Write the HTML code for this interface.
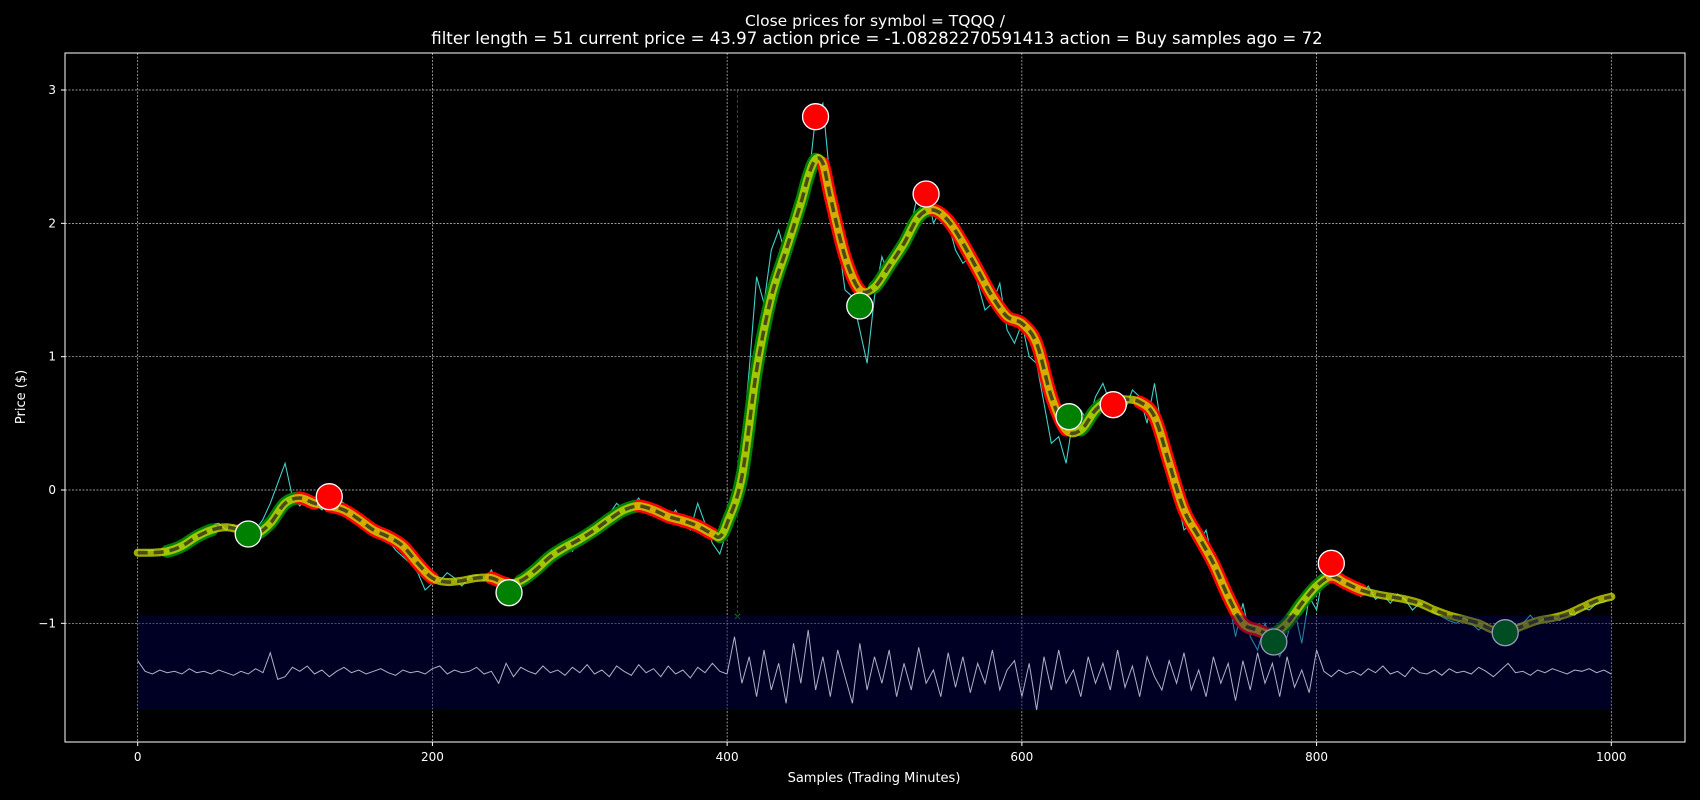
<!DOCTYPE html>
<html><head><meta charset="utf-8"><style>
html,body{margin:0;padding:0;background:#000;}
svg{display:block;font-family:"DejaVu Sans","Liberation Sans",sans-serif;}
</style></head><body>
<svg id="chart" width="1700" height="800" viewBox="0 0 1700 800" xmlns="http://www.w3.org/2000/svg">
<rect width="1700" height="800" fill="#000"/>
<text x="875" y="26" fill="#fff" font-size="15.5" text-anchor="middle">Close prices for symbol = TQQQ /</text>
<text x="877" y="44" fill="#fff" font-size="16.6" text-anchor="middle">filter length = 51 current price = 43.97 action price = -1.08282270591413 action = Buy samples ago = 72</text>
<g id="plot"></g>
<text x="874" y="782" fill="#fff" font-size="13" text-anchor="middle">Samples (Trading Minutes)</text>
<text x="0" y="0" fill="#fff" font-size="13" text-anchor="middle" transform="translate(25,397) rotate(-90)">Price ($)</text>
</svg>
<script>
const smoothX=[0,10,20,30,40,50,60,70,80,90,100,110,120,130,140,150,160,170,180,190,200,210,220,230,240,250,260,270,280,290,300,310,320,330,340,350,360,370,380,390,395,400,410,420,430,440,450,455,460,465,470,480,490,500,510,520,530,540,550,560,570,580,590,600,610,620,630,640,650,660,670,680,690,700,710,720,730,740,750,760,770,780,790,800,810,820,830,840,850,860,870,880,890,900,910,920,930,940,950,960,970,980,990,1000];
const smoothY=[-0.47,-0.47,-0.46,-0.42,-0.35,-0.3,-0.28,-0.3,-0.33,-0.25,-0.1,-0.06,-0.1,-0.12,-0.15,-0.22,-0.3,-0.35,-0.42,-0.55,-0.66,-0.69,-0.68,-0.66,-0.66,-0.70,-0.68,-0.6,-0.5,-0.43,-0.37,-0.3,-0.22,-0.15,-0.12,-0.15,-0.2,-0.23,-0.27,-0.33,-0.35,-0.25,0.1,0.9,1.45,1.8,2.15,2.35,2.48,2.45,2.2,1.75,1.5,1.52,1.68,1.85,2.05,2.1,2.02,1.85,1.65,1.45,1.3,1.25,1.1,0.7,0.45,0.45,0.6,0.68,0.68,0.66,0.55,0.2,-0.15,-0.35,-0.55,-0.8,-1.0,-1.05,-1.08,-1.0,-0.85,-0.72,-0.65,-0.7,-0.75,-0.78,-0.8,-0.82,-0.85,-0.9,-0.94,-0.97,-1.0,-1.05,-1.06,-1.02,-0.98,-0.96,-0.93,-0.88,-0.83,-0.8];
const priceStep=5;
const price=[-0.47,-0.46,-0.45,-0.48,-0.44,-0.46,-0.45,-0.40,-0.36,-0.30,-0.26,
-0.25,-0.30,-0.26,-0.33,-0.38,-0.30,-0.22,-0.10,0.05,0.20,
-0.05,-0.12,-0.05,-0.10,-0.15,-0.08,-0.06,-0.10,-0.18,-0.24,
-0.28,-0.30,-0.35,-0.38,-0.45,-0.50,-0.55,-0.62,-0.75,-0.70,
-0.68,-0.62,-0.66,-0.72,-0.65,-0.64,-0.68,-0.60,-0.72,-0.78,
-0.74,-0.66,-0.62,-0.55,-0.50,-0.52,-0.44,-0.40,-0.46,-0.36,
-0.32,-0.28,-0.24,-0.18,-0.10,-0.15,-0.12,-0.06,-0.15,-0.12,
-0.20,-0.22,-0.15,-0.25,-0.30,-0.10,-0.25,-0.40,-0.48,-0.30,
0.05,0.3,0.9,1.6,1.4,1.8,1.95,1.75,2.05,2.2,
2.3,2.8,2.9,2.3,1.9,1.5,1.45,1.2,0.95,1.45,
1.75,1.6,1.8,1.9,2.0,2.25,2.3,2.0,2.1,2.0,
1.8,1.7,1.75,1.55,1.35,1.4,1.55,1.2,1.1,1.25,
1.0,0.95,0.65,0.35,0.4,0.2,0.55,0.6,0.5,0.7,
0.8,0.65,0.7,0.6,0.75,0.7,0.5,0.8,0.45,0.3,
-0.05,-0.3,-0.25,-0.4,-0.3,-0.55,-0.7,-0.8,-1.1,-0.85,
-1.1,-1.2,-1.0,-1.15,-1.25,-1.1,-0.9,-1.15,-0.8,-0.9,
-0.6,-0.55,-0.65,-0.7,-0.75,-0.8,-0.72,-0.82,-0.78,-0.85,
-0.78,-0.82,-0.9,-0.85,-0.88,-0.92,-0.95,-0.98,-1.0,-0.96,
-1.0,-1.05,-1.0,-1.08,-1.1,-1.05,-1.02,-1.0,-0.94,-1.0,
-0.96,-0.95,-0.98,-0.92,-0.94,-0.88,-0.9,-0.85,-0.84,-0.8];
const osc=[-1.28,-1.36,-1.38,-1.35,-1.37,-1.36,-1.38,-1.34,-1.37,-1.36,-1.38,
-1.35,-1.37,-1.39,-1.36,-1.38,-1.34,-1.37,-1.22,-1.42,-1.40,
-1.33,-1.36,-1.32,-1.38,-1.35,-1.40,-1.36,-1.33,-1.37,-1.35,
-1.38,-1.36,-1.34,-1.37,-1.39,-1.35,-1.37,-1.36,-1.38,-1.34,
-1.32,-1.38,-1.35,-1.37,-1.36,-1.33,-1.38,-1.36,-1.45,-1.30,
-1.40,-1.33,-1.36,-1.38,-1.32,-1.37,-1.35,-1.39,-1.33,-1.37,
-1.31,-1.38,-1.35,-1.40,-1.32,-1.36,-1.39,-1.31,-1.37,-1.34,
-1.40,-1.32,-1.38,-1.35,-1.41,-1.33,-1.37,-1.30,-1.36,-1.38,
-1.10,-1.45,-1.25,-1.55,-1.20,-1.50,-1.30,-1.60,-1.15,-1.45,
-1.05,-1.50,-1.25,-1.55,-1.20,-1.40,-1.60,-1.15,-1.50,-1.25,
-1.45,-1.20,-1.55,-1.30,-1.50,-1.18,-1.45,-1.35,-1.55,-1.22,
-1.48,-1.25,-1.52,-1.30,-1.45,-1.20,-1.50,-1.35,-1.28,-1.55,
-1.30,-1.65,-1.25,-1.50,-1.20,-1.45,-1.35,-1.55,-1.25,-1.45,
-1.30,-1.50,-1.20,-1.48,-1.32,-1.55,-1.25,-1.40,-1.50,-1.28,
-1.45,-1.22,-1.50,-1.35,-1.55,-1.25,-1.45,-1.30,-1.58,-1.28,
-1.50,-1.22,-1.45,-1.30,-1.55,-1.25,-1.48,-1.35,-1.52,-1.20,
-1.36,-1.40,-1.35,-1.38,-1.36,-1.39,-1.34,-1.37,-1.32,-1.38,
-1.36,-1.40,-1.33,-1.37,-1.38,-1.35,-1.39,-1.34,-1.37,-1.36,
-1.38,-1.33,-1.36,-1.40,-1.35,-1.30,-1.37,-1.36,-1.39,-1.35,
-1.37,-1.34,-1.36,-1.38,-1.35,-1.36,-1.34,-1.37,-1.35,-1.38];
const sellX=[130,460,535,662,810];
const sellY=[-0.05,2.8,2.22,0.64,-0.55];
const buyX=[75,252,490,632,771,928];
const buyY=[-0.33,-0.77,1.38,0.55,-1.14,-1.07];
const xTicks=[0,200,400,600,800,1000];
const yTicks=[-1,0,1,2,3];
const band=[-0.94,-1.65];
const actionX=407;

const NS="http://www.w3.org/2000/svg";
const L=65,R=1685,T=53,B=742;
const sx=v=>137.7+(v/1000)*(1611.3-137.7);
const sy=v=>490-133.33*v;
const plot=document.getElementById('plot');
function mk(tag,attrs,parent){const e=document.createElementNS(NS,tag);for(const k in attrs)e.setAttribute(k,attrs[k]);(parent||plot).appendChild(e);return e;}
function spline(i0,i1){
  const P=smoothX.map((x,i)=>[sx(x),sy(smoothY[i])]);
  let d='M'+P[i0][0].toFixed(1)+','+P[i0][1].toFixed(1);
  for(let i=i0;i<i1;i++){
    const p0=P[Math.max(i-1,0)],p1=P[i],p2=P[i+1],p3=P[Math.min(i+2,P.length-1)];
    const c1=[p1[0]+(p2[0]-p0[0])/6,p1[1]+(p2[1]-p0[1])/6];
    const c2=[p2[0]-(p3[0]-p1[0])/6,p2[1]-(p3[1]-p1[1])/6];
    d+=' C'+c1[0].toFixed(1)+','+c1[1].toFixed(1)+' '+c2[0].toFixed(1)+','+c2[1].toFixed(1)+' '+p2[0].toFixed(1)+','+p2[1].toFixed(1);
  }
  return d;
}
xTicks.forEach(t=>{
  const g=mk('line',{x1:sx(t),x2:sx(t),y1:T,y2:B,stroke:'#fff','stroke-width':0.7,'stroke-dasharray':'2,1.5',opacity:0.8});
  
  
  const tk=mk('line',{x1:sx(t),x2:sx(t),y1:B,y2:B+4,stroke:'#fff'});
  
  
  const tx=mk('text',{x:sx(t),y:B+19,fill:'#fff','font-size':12,'text-anchor':'middle'});
  tx.textContent=String(t);
  
  
});
yTicks.forEach(t=>{
  const g=mk('line',{x1:L,x2:R,y1:sy(t),y2:sy(t),stroke:'#fff','stroke-width':0.7,'stroke-dasharray':'2,1.5',opacity:0.8});
  
  
  const tk=mk('line',{x1:L-4,x2:L,y1:sy(t),y2:sy(t),stroke:'#fff'});
  
  
  const tx=mk('text',{x:L-9,y:sy(t)+4,fill:'#fff','font-size':12,'text-anchor':'end'});
  tx.textContent=t<0?'\u2212'+Math.abs(t):String(t);
  
  
});
const al=mk('line',{x1:sx(actionX),x2:sx(actionX),y1:sy(3),y2:sy(-0.94),stroke:'#0a0','stroke-width':1,'stroke-dasharray':'3,2',opacity:0.6});


const ax=mk('text',{x:sx(actionX),y:sy(-0.94)+4,fill:'#0a0','font-size':10,'text-anchor':'middle'});
ax.textContent='×';


const pp=price.map((v,i)=>sx(i*priceStep).toFixed(1)+','+sy(v).toFixed(1)).join(' ');
const pl=mk('polyline',{points:pp,fill:'none',stroke:'#40d0c8','stroke-width':1.1});


for(let i=0;i<smoothX.length-1;i++){
  if(smoothX[i]<20||smoothX[i+1]>830)continue;
  const d=smoothY[i+1]-smoothY[i];
  if(Math.abs(d)<0.03)continue;
  const s=mk('path',{d:spline(i,i+1),fill:'none',stroke:d>0?'#008000':'#ff0000','stroke-width':13,'stroke-linecap':'round'});
  
  
}
const sp=spline(0,smoothX.length-1);
const yl=mk('path',{d:sp,fill:'none',stroke:'#c8d800','stroke-width':8,opacity:0.8,'stroke-linejoin':'round','stroke-linecap':'round'});


const dl=mk('path',{d:sp,fill:'none',stroke:'#4a4a16','stroke-width':3.5,'stroke-dasharray':'10,6','stroke-linejoin':'round'});


sellX.forEach((x,i)=>{
  const c=mk('circle',{cx:sx(x),cy:sy(sellY[i]),r:13,fill:'#ff0000',stroke:'#fff','stroke-width':1.3});
  
  
});
buyX.forEach((x,i)=>{
  const c=mk('circle',{cx:sx(x),cy:sy(buyY[i]),r:13,fill:'#008000',stroke:'#fff','stroke-width':1.3});
  
  
});
const br=mk('rect',{x:sx(0),y:sy(band[0]),width:sx(1000)-sx(0),height:sy(band[1])-sy(band[0]),fill:'rgb(0,0,90)',opacity:0.4});


const op=osc.map((v,i)=>sx(i*priceStep).toFixed(1)+','+sy(v).toFixed(1)).join(' ');
const ol=mk('polyline',{points:op,fill:'none',stroke:'#b0b0c8','stroke-width':1});


const fr=mk('rect',{x:L,y:T,width:R-L,height:B-T,fill:'none',stroke:'#fff','stroke-width':1});


</script>
</body></html>
